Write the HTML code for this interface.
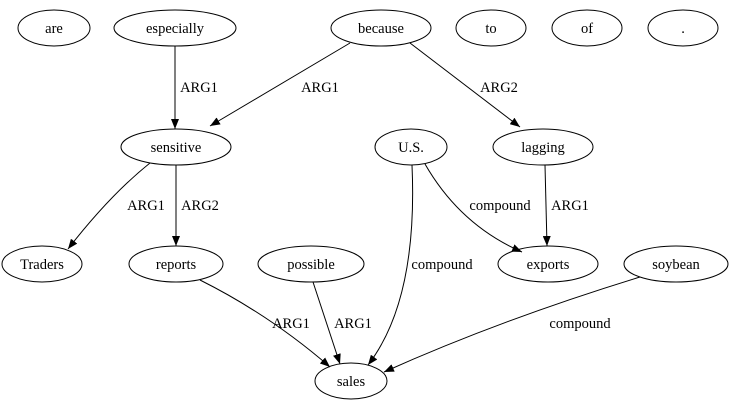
<!DOCTYPE html>
<html><head><style>body{margin:0;background:#fff}svg{display:block}</style></head>
<body>
<svg width="733" height="411" viewBox="0 0 733 411" xmlns="http://www.w3.org/2000/svg" font-family="'Liberation Serif', serif" font-size="14.5">
<defs><marker id="a" markerWidth="10" markerHeight="8" refX="10" refY="4" orient="auto" markerUnits="userSpaceOnUse"><path d="M0,0 L10,4 L0,8 z" fill="#000"/></marker></defs>
<g fill="none" stroke="#000" stroke-width="1">
<ellipse cx="54" cy="28" rx="36" ry="18"/>
<ellipse cx="175" cy="28" rx="61" ry="18"/>
<ellipse cx="381" cy="28" rx="50" ry="18"/>
<ellipse cx="491" cy="28" rx="35" ry="18"/>
<ellipse cx="587" cy="28" rx="35" ry="18"/>
<ellipse cx="683" cy="28" rx="35" ry="18"/>
<ellipse cx="176" cy="147" rx="55" ry="18"/>
<ellipse cx="411" cy="147" rx="36" ry="18"/>
<ellipse cx="543" cy="147" rx="50" ry="18"/>
<ellipse cx="42" cy="264" rx="40" ry="18"/>
<ellipse cx="176" cy="264" rx="47" ry="18"/>
<ellipse cx="311" cy="264" rx="53" ry="18"/>
<ellipse cx="548" cy="264" rx="50" ry="18"/>
<ellipse cx="676" cy="264" rx="52" ry="18"/>
<ellipse cx="351" cy="381" rx="36" ry="18"/>
</g>
<g fill="none" stroke="#000" marker-end="url(#a)">
<path d="M175,46 L175,129"/>
<path d="M350,43 L210,126"/>
<path d="M410,43 L520,127"/>
<path d="M150,163 Q110,195 68,249"/>
<path d="M176,165 L176,246"/>
<path d="M425,164 Q460,225 522,252"/>
<path d="M412,165 Q418,300 368,365"/>
<path d="M545,165 L547,246"/>
<path d="M200,280 Q270,315 330,367"/>
<path d="M313,282 L340,364"/>
<path d="M640,277 Q500,320 384,372"/>
</g>
<g text-anchor="middle" fill="#000">
<text x="54" y="33">are</text>
<text x="175" y="33">especially</text>
<text x="381" y="33">because</text>
<text x="491" y="33">to</text>
<text x="587" y="33">of</text>
<text x="683" y="33">.</text>
<text x="176" y="152">sensitive</text>
<text x="411" y="152">U.S.</text>
<text x="543" y="152">lagging</text>
<text x="42" y="269">Traders</text>
<text x="176" y="269">reports</text>
<text x="311" y="269">possible</text>
<text x="548" y="269">exports</text>
<text x="676" y="269">soybean</text>
<text x="351" y="386">sales</text>
<text x="199" y="92">ARG1</text>
<text x="320" y="92">ARG1</text>
<text x="499" y="92">ARG2</text>
<text x="146" y="210">ARG1</text>
<text x="200" y="210">ARG2</text>
<text x="500" y="210">compound</text>
<text x="570" y="210">ARG1</text>
<text x="442" y="269">compound</text>
<text x="291" y="328">ARG1</text>
<text x="353" y="328">ARG1</text>
<text x="580" y="328">compound</text>
</g>
</svg>
</body></html>
